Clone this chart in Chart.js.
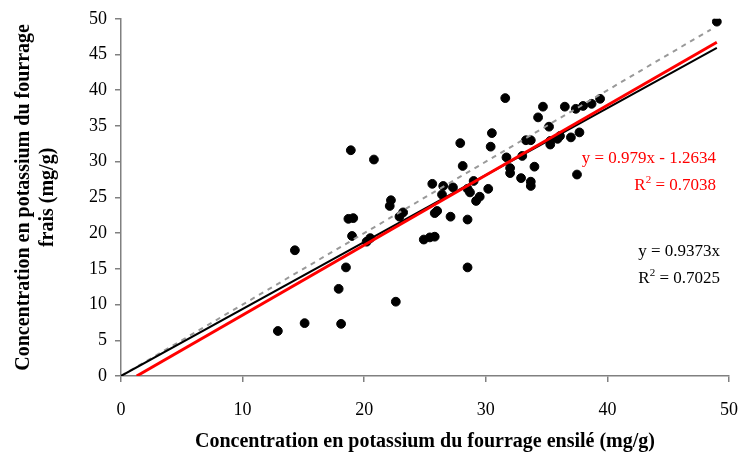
<!DOCTYPE html>
<html>
<head>
<meta charset="utf-8">
<script src="https://cdn.jsdelivr.net/npm/chart.js@4.4.1/dist/chart.umd.min.js"></script>
<style>
  html, body { margin: 0; padding: 0; background: #fff; }
  #wrap { width: 751px; height: 457px; }
</style>
</head>
<body>
<div id="wrap"><canvas id="chart" width="751" height="457"></canvas></div>
<script>
// ensilé (x) vs frais (y), mg/g
const ensile = [
  12.9, 15.1, 18.1, 17.9, 18.5, 14.3, 19.0, 18.7, 19.1, 18.9,
  20.8, 20.2, 20.5, 22.6, 22.2, 22.1, 23.2, 22.9, 24.9, 25.4,
  25.8, 25.8, 26.0, 27.1, 28.5, 28.5, 25.6, 26.5, 27.3, 26.4,
  27.9, 28.1, 28.5, 28.7, 29.0, 29.5, 29.2, 30.2, 30.4, 30.5,
  31.6, 31.7, 32.0, 32.0, 33.0, 32.9, 33.7, 33.7, 34.0, 33.3,
  33.7, 34.3, 34.7, 35.2, 35.3, 35.3, 35.9, 36.1, 36.5, 37.0,
  37.7, 37.4, 38.0, 38.7, 39.4, 37.5, 49.0
];
const frais = [
  6.3, 7.4, 7.3, 12.2, 15.2, 17.6, 19.6, 22.0, 22.1, 31.6,
  30.3, 18.8, 19.3, 10.4, 24.6, 23.8, 22.9, 22.3, 19.1, 19.4,
  19.5, 22.8, 23.1, 22.3, 21.9, 15.2, 26.9, 26.6, 26.4, 25.4,
  32.6, 29.4, 26.2, 25.7, 27.3, 25.1, 24.5, 26.2, 32.1, 34.0,
  38.9, 30.6, 29.1, 28.4, 30.8, 27.7, 27.2, 26.6, 29.3, 33.0,
  33.0, 36.2, 37.7, 34.9, 32.4, 32.9, 33.2, 33.6, 37.7, 33.4,
  34.1, 37.4, 37.8, 38.1, 38.8, 28.2, 49.6
];

// trend lines
const fitRed = { slope: 0.979, intercept: -1.2634, xEnd: 49 };
const fitBlack = { slope: 0.9373, intercept: 0, xEnd: 49 };
const oneToOne = { slope: 1, intercept: 0, xEnd: 48.5 };

const xTicks = [0, 10, 20, 30, 40, 50];
const yTicks = [0, 5, 10, 15, 20, 25, 30, 35, 40, 45, 50];

const serif = '"Liberation Serif", "Times New Roman", serif';

function lineFrom(fit) {
  let x0 = 0;
  if (fit.intercept < 0) x0 = -fit.intercept / fit.slope;
  return [
    { x: x0, y: fit.slope * x0 + fit.intercept },
    { x: fit.xEnd, y: fit.slope * fit.xEnd + fit.intercept }
  ];
}

const points = ensile.map((x, i) => ({ x: x, y: frais[i] }));

// equation labels
const labels = [
  { text: 'y = 0.979x - 1.2634', x: 716, y: 163, align: 'right', color: '#ff0000' },
  { text: 'R', sup: '2', rest: ' = 0.7038', x: 716, y: 190, align: 'right', color: '#ff0000' },
  { text: 'y = 0.9373x', x: 720, y: 256, align: 'right', color: '#000' },
  { text: 'R', sup: '2', rest: ' = 0.7025', x: 720, y: 283, align: 'right', color: '#000' }
];

const textPlugin = {
  id: 'eqText',
  afterDraw(chart) {
    const ctx = chart.ctx;
    ctx.save();
    ctx.textBaseline = 'alphabetic';
    labels.forEach(l => {
      ctx.fillStyle = l.color;
      ctx.font = '17px ' + serif;
      if (!l.sup) {
        ctx.textAlign = l.align;
        ctx.fillText(l.text, l.x, l.y);
        return;
      }
      const w1 = ctx.measureText(l.text).width;
      const w3 = ctx.measureText(l.rest).width;
      ctx.font = '11px ' + serif;
      const w2 = ctx.measureText(l.sup).width;
      let x = l.x - (w1 + w2 + w3);
      ctx.textAlign = 'left';
      ctx.font = '17px ' + serif;
      ctx.fillText(l.text, x, l.y);
      x += w1;
      ctx.font = '11px ' + serif;
      ctx.fillText(l.sup, x, l.y - 7);
      x += w2;
      ctx.font = '17px ' + serif;
      ctx.fillText(l.rest, x, l.y);
    });
    ctx.restore();
  }
};

new Chart(document.getElementById('chart'), {
  type: 'scatter',
  data: {
    datasets: [
      {
        type: 'line',
        data: lineFrom(fitRed),
        borderColor: '#ff0000',
        borderWidth: 3,
        pointRadius: 0,
        fill: false,
        order: 0
      },
      {
        type: 'line',
        data: lineFrom(fitBlack),
        borderColor: '#000000',
        borderWidth: 2,
        pointRadius: 0,
        fill: false,
        order: 1
      },
      {
        type: 'line',
        data: lineFrom(oneToOne),
        borderColor: '#999999',
        borderWidth: 2,
        borderDash: [5, 5],
        pointRadius: 0,
        fill: false,
        order: 2
      },
      {
        data: points,
        backgroundColor: '#000',
        borderColor: '#000',
        pointRadius: 4.4,
        order: 3
      }
    ]
  },
  options: {
    responsive: false,
    animation: false,
    layout: { padding: { top: 18, right: 22, left: 12, bottom: 0 } },
    plugins: {
      legend: { display: false },
      tooltip: { enabled: false }
    },
    scales: {
      x: {
        type: 'linear',
        min: 0,
        max: 50,
        afterBuildTicks: s => { s.ticks = xTicks.map(v => ({ value: v })); },
        afterFit: s => { s.height = 81; s.paddingRight = 0; s.paddingLeft = 0; },
        grid: { drawOnChartArea: false, drawTicks: true, tickLength: 6, color: '#808080', lineWidth: 1.5 },
        border: { color: '#808080', width: 1.5 },
        ticks: { color: '#000', font: { family: serif, size: 18 }, padding: 17 },
        title: {
          display: true,
          text: 'Concentration en potassium du fourrage ensilé (mg/g)',
          color: '#000',
          font: { family: serif, size: 20, weight: 'bold' },
          padding: { top: 0, bottom: 3 }
        }
      },
      y: {
        type: 'linear',
        min: 0,
        max: 50,
        afterBuildTicks: s => { s.ticks = yTicks.map(v => ({ value: v })); },
        afterFit: s => { s.width = 109; },
        grid: { drawOnChartArea: false, drawTicks: true, tickLength: 6, color: '#808080', lineWidth: 1.5 },
        border: { color: '#808080', width: 1.5 },
        ticks: { color: '#000', font: { family: serif, size: 18 }, padding: 8 },
        title: {
          display: true,
          text: ['Concentration en potassium du fourrage', 'frais (mg/g)'],
          color: '#000',
          font: { family: serif, size: 20, weight: 'bold', lineHeight: 1.2 },
          padding: { top: 0, bottom: 0 }
        }
      }
    }
  },
  plugins: [textPlugin]
});
</script>
</body>
</html>
